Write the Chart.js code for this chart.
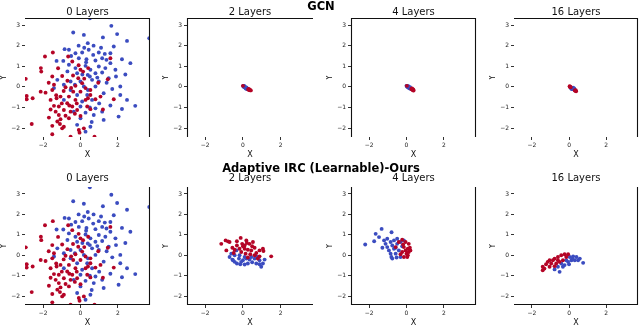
<!DOCTYPE html>
<html><head><meta charset="utf-8">
<script src="https://cdn.jsdelivr.net/npm/chart.js@4/dist/chart.umd.min.js"></script>
<style>
body{margin:0;background:#fff;width:640px;height:325px;overflow:hidden;position:relative;font-family:"DejaVu Sans",sans-serif}
canvas{position:absolute}
.sup{position:absolute;left:1px;width:640px;text-align:center;font-weight:bold;font-size:11.5px;line-height:12px;color:#000;z-index:5}
</style>
</head><body>
<script>
// ---- data ----
const ROW_TITLES = ['GCN', 'Adaptive IRC (Learnable)-Ours'];
const PANEL_TITLES = ['0 Layers', '2 Layers', '4 Layers', '16 Layers'];
const X_TICKS = [-2, 0, 2];
const Y_TICKS = [-2, -1, 0, 1, 2, 3];
const X_RANGE = [-2.97, 3.72];
const Y_RANGE = [-2.43, 3.34];
const RED = '#b40426';
const BLUE = '#3b4cc0';

const L0_BLUE = [[0.50,3.33],[1.65,2.96],[-0.39,2.64],[0.18,2.52],[1.96,2.56],[3.68,2.36],[2.49,2.23],[0.39,2.12],
[-0.85,1.83],[-0.62,1.80],[-0.27,1.63],[0.09,1.67],[0.44,1.80],[0.98,1.67],[1.78,1.96],[1.60,1.63],[0.68,1.55],
[-0.09,1.39],[0.32,1.34],[0.80,1.28],[-1.28,1.26],[-0.92,1.26],[1.16,1.39],[1.39,1.31],[2.22,1.34],[2.67,1.15],
[1.60,1.15],[-0.62,1.07],[-0.27,0.91],[0.27,1.02],[0.53,0.83],[0.98,0.99],[1.33,0.91],[1.87,0.83],[-0.18,0.66],
[0.39,0.58],[0.80,0.66],[1.16,0.70],[1.51,0.42],[-0.53,0.26],[0.00,0.26],[0.62,0.34],[0.98,0.26],[-0.89,0.10],
[-1.42,-0.06],[0.18,0.02],[0.80,0.02],[2.13,0.02],[-1.24,0.34],[-0.53,-0.15],[-0.18,-0.39],[0.36,-0.39],[1.24,-0.31],
[2.13,-0.39],[2.49,-0.63],[-0.89,-0.63],[0.09,-0.71],[0.62,-0.63],[0.00,-0.95],[0.80,-1.04],[1.16,-1.20],[2.22,-1.07],
[2.93,-0.92],[-0.36,-1.20],[0.27,-1.25],[0.00,-1.52],[0.71,-1.36],[1.24,-1.60],[2.04,-1.44],[-0.18,-1.84],[0.53,-1.93],
[0.27,-2.17],[0.20,1.90],[0.70,2.00],[1.10,1.90],[-0.50,1.50],[0.30,1.20],[1.30,1.60],[0.50,0.50],[0.90,0.45],
[1.40,0.20],[1.70,-0.10],[0.40,-0.15],[-0.30,0.10],[1.00,-0.80],[1.60,-0.90],[0.50,-1.00],[1.90,0.50],[2.40,0.60],
[0.10,0.60],[-0.70,0.75],[1.20,2.40],[-0.10,2.00],[0.60,-1.70]];
const L0_RED = [[-1.48,1.67],[-1.90,1.47],[-0.66,1.47],[-0.44,1.23],[-2.12,0.91],[-2.10,0.74],[0.00,0.83],[0.14,0.74],
[0.41,0.91],[1.60,1.39],[1.46,0.37],[-1.51,0.50],[-0.98,0.53],[-2.93,0.39],[-0.12,0.42],[0.09,0.18],[-0.27,0.05],
[-1.42,0.10],[-0.80,-0.02],[0.53,-0.15],[0.27,-0.06],[0.00,-0.23],[-0.39,-0.23],[-2.13,-0.23],[-1.87,-0.28],[-1.51,-0.15],
[1.07,-0.47],[0.53,-0.39],[-2.88,-0.44],[-2.56,-0.55],[-2.88,-0.60],[-1.60,-0.63],[-1.28,-0.55],[-1.07,-0.47],[-0.62,-0.47],
[-0.27,-0.63],[0.27,-0.63],[1.78,-0.60],[-1.42,-0.92],[-1.16,-0.95],[-0.71,-0.79],[-0.44,-0.95],[0.36,-0.95],[0.53,-1.08],
[-0.89,-1.12],[-1.33,-1.20],[-0.53,-1.20],[-0.18,-1.12],[-1.69,-1.49],[-1.16,-1.36],[-1.07,-1.57],[-1.24,-1.68],[-0.62,-1.52],
[0.00,-1.41],[-2.61,-1.80],[-1.51,-1.89],[-0.98,-2.01],[-0.89,-1.93],[-0.09,-2.09],[0.18,-2.01],[-1.51,-2.30],[-0.53,-2.41],
[0.75,-2.41],[-0.05,-2.22],[-0.90,-0.20],[-0.60,-0.90],[-1.00,-0.80],[-0.30,-1.30],[-0.70,0.30],[0.20,0.40],[-0.20,-0.80],
[-1.30,-0.40],[-0.40,0.55],[0.80,-0.60],[-1.10,-1.80],[-0.80,-1.40],[-1.70,0.20],[-0.10,1.05],[-1.20,0.90],[0.95,0.20],
[0.40,-0.55],[-0.50,-0.05],[-1.60,-1.10],[1.20,-1.10]];

const GCN2_BLUE = [[0.02,0.04],[0.05,0.02],[0.08,0.00],[0.10,-0.02],[0.13,-0.04],[0.16,-0.06],[0.19,-0.08],[0.22,-0.10],
[0.25,-0.11],[0.04,0.01],[0.12,-0.01],[0.15,-0.08],[0.20,-0.05],[0.07,0.04],[0.18,-0.03]];
const GCN2_RED = [[0.28,-0.13],[0.33,-0.15],[0.38,-0.16],[0.42,-0.17],[0.00,0.05],[0.30,-0.10],[0.35,-0.12]];
const GCN4_BLUE = [[0.00,0.05],[0.03,0.03],[0.06,0.02],[0.09,0.00],[0.12,-0.02],[0.15,-0.04],[0.18,-0.06],[0.21,-0.08],
[0.24,-0.10],[0.05,-0.01],[0.10,0.03],[0.14,-0.07],[0.19,-0.02]];
const GCN4_RED = [[0.26,-0.09],[0.29,-0.12],[0.32,-0.14],[0.35,-0.16],[0.38,-0.18],[0.30,-0.08],[0.36,-0.12],[0.02,0.05]];
const GCN16_BLUE = [[0.12,-0.04],[0.15,-0.06],[0.18,-0.08],[0.21,-0.09],[0.24,-0.11],[0.27,-0.13],[0.16,-0.11],[0.22,-0.04],
[0.28,-0.08],[0.11,-0.08]];
const GCN16_RED = [[0.03,0.03],[0.06,0.01],[0.09,-0.02],[0.05,-0.01],[0.31,-0.17],[0.34,-0.19],[0.38,-0.21],[0.36,-0.16]];

const IRC2_RED = [[-1.15,0.56],[-0.92,0.73],[-0.79,0.68],[-0.71,0.65],[-0.12,0.85],[-0.56,0.37],[-0.88,0.24],[-0.32,0.48],
[-0.04,0.56],[0.09,0.48],[0.21,0.60],[0.35,0.56],[0.49,0.44],[0.62,0.37],[1.06,0.32],[1.09,0.21],[1.50,-0.05],[-0.44,0.27],
[-0.18,0.32],[0.09,0.32],[0.26,0.27],[0.44,0.24],[0.71,0.11],[0.88,-0.05],[-0.09,0.16],[0.14,0.08],[0.39,0.05],[0.62,0.00],
[0.79,-0.16],[0.18,0.73],[0.00,0.44],[-0.49,0.11],[0.88,0.24],[0.53,0.65],[0.26,-0.11],[-0.32,0.69]];
const IRC2_BLUE = [[-0.71,-0.08],[-0.56,-0.21],[-0.44,-0.32],[-0.32,-0.40],[-0.14,-0.44],[0.09,-0.45],[0.26,-0.40],[0.49,-0.34],
[0.71,-0.40],[0.88,-0.24],[0.97,-0.56],[1.06,-0.40],[1.15,-0.21],[0.62,-0.16],[0.35,-0.21],[0.00,-0.24],[-0.21,-0.16],
[-0.44,0.00],[-0.18,0.00],[0.09,-0.08],[-0.35,0.24],[-0.62,0.08],[0.18,-0.16],[0.71,-0.05],[0.88,-0.44],[-0.09,-0.32],
[-0.53,-0.24],[0.44,-0.08]];
const IRC4_RED = [[-0.23,0.76],[-0.05,0.65],[-0.14,0.40],[0.07,0.32],[0.00,0.08],[-0.23,0.16],[0.12,0.56],[0.04,-0.08],
[-0.41,0.65],[-0.58,0.40],[-0.14,-0.08],[0.12,0.16],[-0.05,0.24],[0.18,0.37],[-0.32,0.05],[0.07,0.00],[0.21,0.24],[-0.18,0.53]];
const IRC4_BLUE = [[-2.21,0.53],[-1.73,0.69],[-1.65,1.05],[-1.33,1.29],[-0.80,1.13],[-1.47,0.89],[-1.20,0.73],[-1.03,0.81],
[-0.85,0.65],[-0.76,0.48],[-0.67,0.32],[-0.50,0.56],[-0.32,0.65],[-1.03,0.40],[-1.29,0.37],[-0.85,0.08],[-0.58,0.08],
[-0.76,-0.16],[-0.32,-0.08],[-0.41,0.24],[-0.94,0.24],[-0.23,0.44],[-0.50,0.81],[-0.67,0.73],[-1.12,0.56],[-0.58,0.37],
[-0.81,-0.08],[-0.53,-0.11],[-0.14,0.73]];
const IRC16_RED = [[-1.42,-0.73],[-1.42,-0.56],[-1.24,-0.44],[-1.05,-0.24],[-0.87,-0.24],[-0.78,-0.16],[-0.60,-0.08],[-0.42,0.00],
[-0.24,0.05],[-0.05,0.05],[-1.05,-0.56],[-0.69,-0.40],[-0.51,-0.32],[-0.33,-0.24],[-1.33,-0.65],[-0.96,-0.40],[-1.15,-0.32],
[-0.60,-0.24],[-0.15,-0.08],[-0.78,-0.53]];
const IRC16_BLUE = [[-0.51,-0.81],[-0.78,-0.69],[-0.60,-0.56],[-0.24,-0.48],[-0.15,-0.24],[0.04,-0.08],[0.22,-0.05],[0.40,-0.08],
[0.58,-0.16],[0.76,-0.37],[0.13,-0.24],[0.31,-0.24],[-0.05,-0.32],[-0.33,-0.56],[-0.42,-0.40],[0.49,-0.24],[0.18,-0.16],[0.00,-0.44]];

const PANELS = [
  [[L0_RED, L0_BLUE], [GCN2_RED, GCN2_BLUE], [GCN4_RED, GCN4_BLUE], [GCN16_RED, GCN16_BLUE]],
  [[L0_RED, L0_BLUE], [IRC2_RED, IRC2_BLUE], [IRC4_RED, IRC4_BLUE], [IRC16_RED, IRC16_BLUE]]
];
// visible frame sides per panel (top,right,bottom,left)
const SPINES = [
  [{t:1,r:1},{t:1,l:1},{t:1,l:1,r:1},{t:1,r:1}],
  [{b:1,r:1},{b:1,l:1},{b:1,l:1,r:1},{b:1,r:1}]
];

// ---- layout ----
const PL = [25, 187, 351, 514], PW = [125, 126, 125, 124];
const PT = [18, 187], PH = [119, 118];
const TITLE_PAD = [{top:6, bottom:0}, {top:3.7, bottom:2.3}];

const spinePlugin = {
  id: 'spines',
  afterDraw(chart, args, o) {
    const {ctx, chartArea: a} = chart;
    ctx.save();
    ctx.strokeStyle = '#111'; ctx.lineWidth = 1.1;
    ctx.beginPath();
    if (o.t) { ctx.moveTo(a.left, a.top + 0.5); ctx.lineTo(a.right, a.top + 0.5); }
    if (o.b) { ctx.moveTo(a.left, a.bottom - 0.5); ctx.lineTo(a.right, a.bottom - 0.5); }
    if (o.l) { ctx.moveTo(a.left + 0.5, a.top); ctx.lineTo(a.left + 0.5, a.bottom); }
    if (o.r) { ctx.moveTo(a.right - 0.5, a.top); ctx.lineTo(a.right - 0.5, a.bottom); }
    ctx.stroke();
    ctx.restore();
  }
};

const fmt = v => (v < 0 ? '\u2212' : '') + Math.abs(v);
const toPts = arr => arr.map(p => ({x: p[0], y: p[1]}));

for (let r = 0; r < 2; r++) {
  for (let c = 0; c < 4; c++) {
    const cv = document.createElement('canvas');
    const w = 25 + PW[c] + 4, h = 18 + PH[r] + 24;
    cv.width = w; cv.height = h;
    cv.style.width = w + 'px'; cv.style.height = h + 'px';
    cv.style.left = (PL[c] - 25) + 'px';
    cv.style.top = (PT[r] - 18) + 'px';
    document.body.appendChild(cv);
    const [red, blue] = PANELS[r][c];
    new Chart(cv, {
      type: 'scatter',
      data: {
        datasets: [
          {data: toPts(red), backgroundColor: RED, borderWidth: 0, pointRadius: 1.95},
          {data: toPts(blue), backgroundColor: BLUE, borderWidth: 0, pointRadius: 1.95}
        ]
      },
      options: {
        responsive: false, animation: false, devicePixelRatio: 1, events: [],
        layout: {padding: {left: 0, right: 4, top: 0, bottom: 0}},
        plugins: {
          legend: {display: false}, tooltip: {enabled: false},
          title: {display: true, text: PANEL_TITLES[c], fullSize: false,
            font: {family: 'DejaVu Sans', size: 10, weight: 'normal', lineHeight: 1.2},
            color: '#111', padding: TITLE_PAD[r]},
          spines: SPINES[r][c]
        },
        scales: {
          x: {
            type: 'linear', min: X_RANGE[0], max: X_RANGE[1],
            afterBuildTicks: s => { s.ticks = X_TICKS.map(v => ({value: v})); },
            afterFit: s => { s.height = 24; },
            ticks: {autoSkip: false, maxRotation: 0, padding: 2, color: '#222',
              font: {family: 'DejaVu Sans', size: 6}, callback: fmt},
            grid: {drawOnChartArea: false, drawTicks: true, tickLength: 3, tickColor: '#333', color: 'rgba(0,0,0,0)'},
            border: {display: false},
            title: {display: true, text: 'X', color: '#111', padding: {top: 0, bottom: 2},
              font: {family: 'DejaVu Sans', size: 8, lineHeight: 1}}
          },
          y: {
            type: 'linear', min: Y_RANGE[0], max: Y_RANGE[1],
            afterBuildTicks: s => { s.ticks = Y_TICKS.map(v => ({value: v})); },
            afterFit: s => { s.width = 25; },
            ticks: {autoSkip: false, padding: 2, color: '#222',
              font: {family: 'DejaVu Sans', size: 6}, callback: fmt},
            grid: {drawOnChartArea: false, drawTicks: true, tickLength: 3, tickColor: '#333', color: 'rgba(0,0,0,0)'},
            border: {display: false},
            title: {display: true, text: 'Y', color: '#111', padding: {top: 0, bottom: 0},
              font: {family: 'DejaVu Sans', size: 8, lineHeight: 1}}
          }
        }
      },
      plugins: [spinePlugin]
    });
  }
}

const sTops = [-0.5, 161.5];
ROW_TITLES.forEach((t, i) => {
  const d = document.createElement('div');
  d.className = 'sup'; d.textContent = t; d.style.top = sTops[i] + 'px';
  document.body.appendChild(d);
});
</script>
</body></html>
